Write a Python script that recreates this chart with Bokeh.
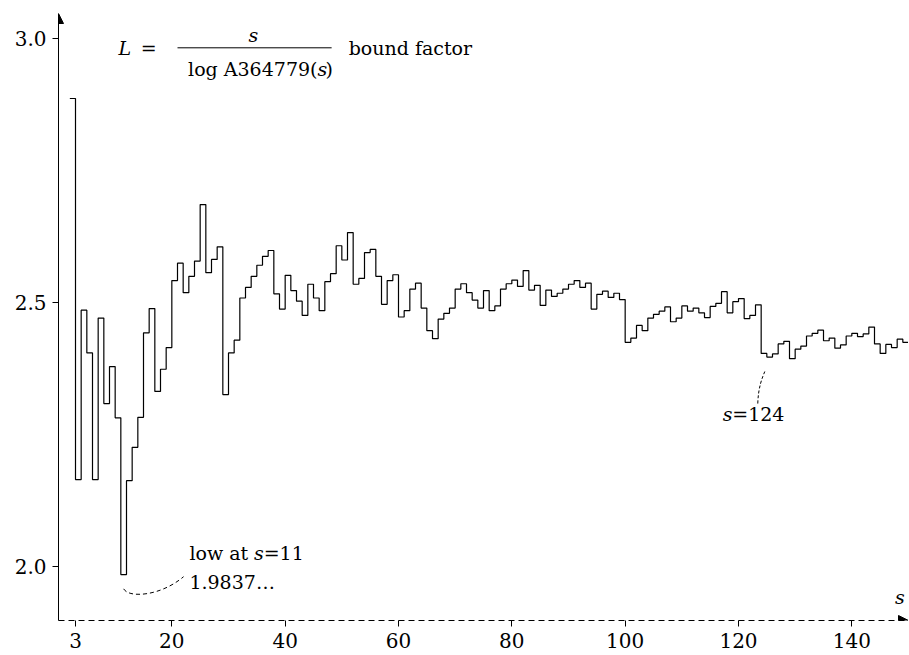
from bokeh.plotting import figure
from bokeh.models import Range1d, FixedTicker, Label, Arrow, NormalHead, PrintfTickFormatter
from bokeh.embed import file_html
from bokeh.resources import INLINE

# ---- data ----
s_vals = list(range(2, 150))
L_vals = [
    2.886, 2.164, 2.485, 2.404, 2.164, 2.470, 2.308, 2.378, 2.281, 1.984,   # 2-11
    2.162, 2.225, 2.282, 2.442, 2.488, 2.331, 2.373, 2.414, 2.541, 2.574,   # 12-21
    2.518, 2.549, 2.578, 2.685, 2.556, 2.581, 2.605, 2.325, 2.404, 2.428,   # 22-31
    2.508, 2.528, 2.549, 2.570, 2.587, 2.598, 2.516, 2.487, 2.551, 2.522,   # 32-41
    2.502, 2.475, 2.534, 2.508, 2.484, 2.539, 2.554, 2.607, 2.580, 2.632,   # 42-51
    2.534, 2.545, 2.594, 2.600, 2.549, 2.496, 2.541, 2.552, 2.472, 2.484,   # 52-61
    2.525, 2.536, 2.489, 2.446, 2.431, 2.468, 2.479, 2.489, 2.525, 2.535,   # 62-71
    2.518, 2.504, 2.489, 2.522, 2.484, 2.493, 2.525, 2.535, 2.542, 2.530,   # 72-81
    2.560, 2.523, 2.532, 2.494, 2.523, 2.511, 2.517, 2.525, 2.534, 2.541,   # 82-91
    2.528, 2.536, 2.487, 2.515, 2.521, 2.509, 2.517, 2.505, 2.424, 2.432,   # 92-101
    2.456, 2.446, 2.470, 2.477, 2.483, 2.491, 2.463, 2.470, 2.493, 2.483,   # 102-111
    2.489, 2.480, 2.471, 2.492, 2.498, 2.520, 2.480, 2.501, 2.507, 2.469,   # 112-121
    2.475, 2.495, 2.403, 2.396, 2.402, 2.421, 2.426, 2.393, 2.411, 2.417,   # 122-131
    2.436, 2.441, 2.447, 2.427, 2.432, 2.413, 2.419, 2.436, 2.441, 2.435,   # 132-141
    2.440, 2.453, 2.421, 2.403, 2.420, 2.414, 2.430, 2.424,                 # 142-149
]
x_ticks = [3, 20, 40, 60, 80, 100, 120, 140]
y_ticks = [2.0, 2.5, 3.0]
low_s = 11
low_label = "1.9837\u2026"
mark_s = 124

FONT = "DejaVu Serif"
FS = "19px"
TFS = "20px"

p = figure(width=908, height=655, output_backend="svg", toolbar_location=None,
           x_range=Range1d(0, 150), y_range=Range1d(1.897, 3.047),
           min_border_left=58, min_border_right=0, min_border_top=13,
           min_border_bottom=35)
p.outline_line_color = None
p.grid.visible = False
p.background_fill_color = "white"

# step line (value at s holds until s+1)
xs = s_vals + [s_vals[-1] + 1]
ys = L_vals + [L_vals[-1]]
p.step(xs, ys, mode="after", line_color="black", line_width=1.2)

# axes
p.xaxis.ticker = FixedTicker(ticks=x_ticks)
p.yaxis.ticker = FixedTicker(ticks=y_ticks)
p.yaxis.formatter = PrintfTickFormatter(format="%.1f")
for ax in (p.xaxis[0], p.yaxis[0]):
    ax.axis_line_color = "black"
    ax.axis_line_width = 1
    ax.major_tick_line_color = "black"
    ax.major_tick_in = 0
    ax.major_tick_out = 6
    ax.minor_tick_line_color = None
    ax.major_label_text_font = FONT
    ax.major_label_text_font_size = TFS
    ax.major_label_text_color = "black"
    ax.major_label_standoff = 6
p.xaxis.axis_line_dash = "6 4"

# arrow heads
p.add_layout(Arrow(end=NormalHead(size=10, fill_color="black", line_color="black"),
                   x_start=0, y_start=3.0, x_end=0, y_end=3.047, line_alpha=0))
p.add_layout(Arrow(end=NormalHead(size=10, fill_color="black", line_color="black"),
                   x_start=148, y_start=1.897, x_end=150, y_end=1.897, line_alpha=0))

DY = 0.015

def lab(x, y, t, italic=False, align="left", size=FS):
    p.add_layout(Label(x=x, y=y + DY, text=t, text_font=FONT, text_font_size=size,
                       text_font_style="italic" if italic else "normal",
                       text_align=align, text_baseline="alphabetic",
                       text_color="black"))

# title formula: L = s / log A364779(s)   bound factor
lab(10.6, 2.967, "L", italic=True)
lab(14.5, 2.967, "=")
p.add_layout(Arrow(start=None, end=None, x_start=21.0, y_start=2.982, x_end=48.2,
                   y_end=2.982, line_color="black", line_width=1))
lab(34.4, 2.992, "s", italic=True, align="center")
lab(45.7, 2.927, "log A364779(", align="right")
lab(45.7, 2.927, "s", italic=True)
lab(47.1, 2.927, ")")
lab(51.2, 2.967, "bound factor")

# low annotation
lab(23.1, 2.009, "low at ")
lab(34.5, 2.009, "s", italic=True)
lab(36.2, 2.009, "=" + str(low_s))
lab(23.1, 1.954, low_label)
p.bezier(x0=[11.5], y0=[1.957], x1=[22.07], y1=[1.980], cx0=[12.4], cy0=[1.939],
         cx1=[18.0], cy1=[1.943], line_color="black", line_width=1, line_dash="4 3")

# s=124 annotation
lab(117.2, 2.274, "s", italic=True)
lab(118.9, 2.274, "=" + str(mark_s))
p.bezier(x0=[123.4], y0=[2.308], x1=[124.65], y1=[2.369], cx0=[123.5], cy0=[2.340],
         cx1=[124.2], cy1=[2.357], line_color="black", line_width=1, line_dash="3 2")

# axis name
lab(148.5, 1.926, "s", italic=True, align="center")

open("out.html", "w").write(file_html(p, INLINE))
